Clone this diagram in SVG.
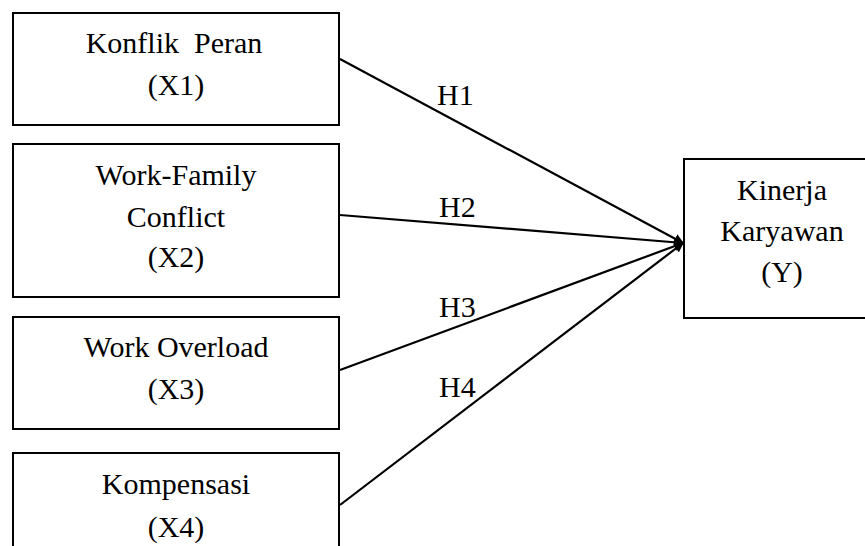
<svg xmlns="http://www.w3.org/2000/svg" width="865" height="546" viewBox="0 0 865 546">
<defs>
<style>
.box{fill:#fff;stroke:#000;stroke-width:2}
.t{font-family:'Liberation Serif',serif;font-size:30px;fill:#000;text-anchor:middle}
.h{font-family:'Liberation Serif',serif;font-size:30px;fill:#000}
.c{stroke:#000;stroke-width:2.2;fill:none;marker-end:url(#arr)}
</style>
<marker id="arr" markerWidth="10" markerHeight="10" refX="9" refY="5" orient="auto" markerUnits="userSpaceOnUse">
<path d="M0,0 L10,5 L0,10 z" fill="#000"/>
</marker>
</defs>
<rect width="865" height="546" fill="#fff"/>
<g id="x1">
<rect class="box" x="13" y="13" width="326" height="112"/>
<text class="t" x="174" y="53" xml:space="preserve">Konflik  Peran</text>
<text class="t" x="176" y="95">(X1)</text>
</g>
<g id="x2">
<rect class="box" x="13" y="144" width="326" height="153"/>
<text class="t" x="176" y="185">Work-Family</text>
<text class="t" x="176" y="227">Conflict</text>
<text class="t" x="176" y="267">(X2)</text>
</g>
<g id="x3">
<rect class="box" x="13" y="317" width="326" height="112"/>
<text class="t" x="176" y="357">Work Overload</text>
<text class="t" x="176" y="399">(X3)</text>
</g>
<g id="x4">
<rect class="box" x="13" y="453" width="326" height="112"/>
<text class="t" x="176" y="494">Kompensasi</text>
<text class="t" x="176" y="537">(X4)</text>
</g>
<g id="y">
<rect class="box" x="684" y="159" width="198" height="159"/>
<text class="t" x="782" y="200">Kinerja</text>
<text class="t" x="782" y="241">Karyawan</text>
<text class="t" x="782" y="282">(Y)</text>
</g>
<g id="connectors">
<line class="c" x1="340" y1="59" x2="683" y2="243"/>
<line class="c" x1="340" y1="215" x2="683" y2="243"/>
<line class="c" x1="340" y1="370" x2="683" y2="243"/>
<line class="c" x1="340" y1="505" x2="683" y2="243"/>
<text class="h" x="437" y="105">H1</text>
<text class="h" x="439" y="217">H2</text>
<text class="h" x="439" y="317">H3</text>
<text class="h" x="439" y="397">H4</text>
</g>
</svg>
